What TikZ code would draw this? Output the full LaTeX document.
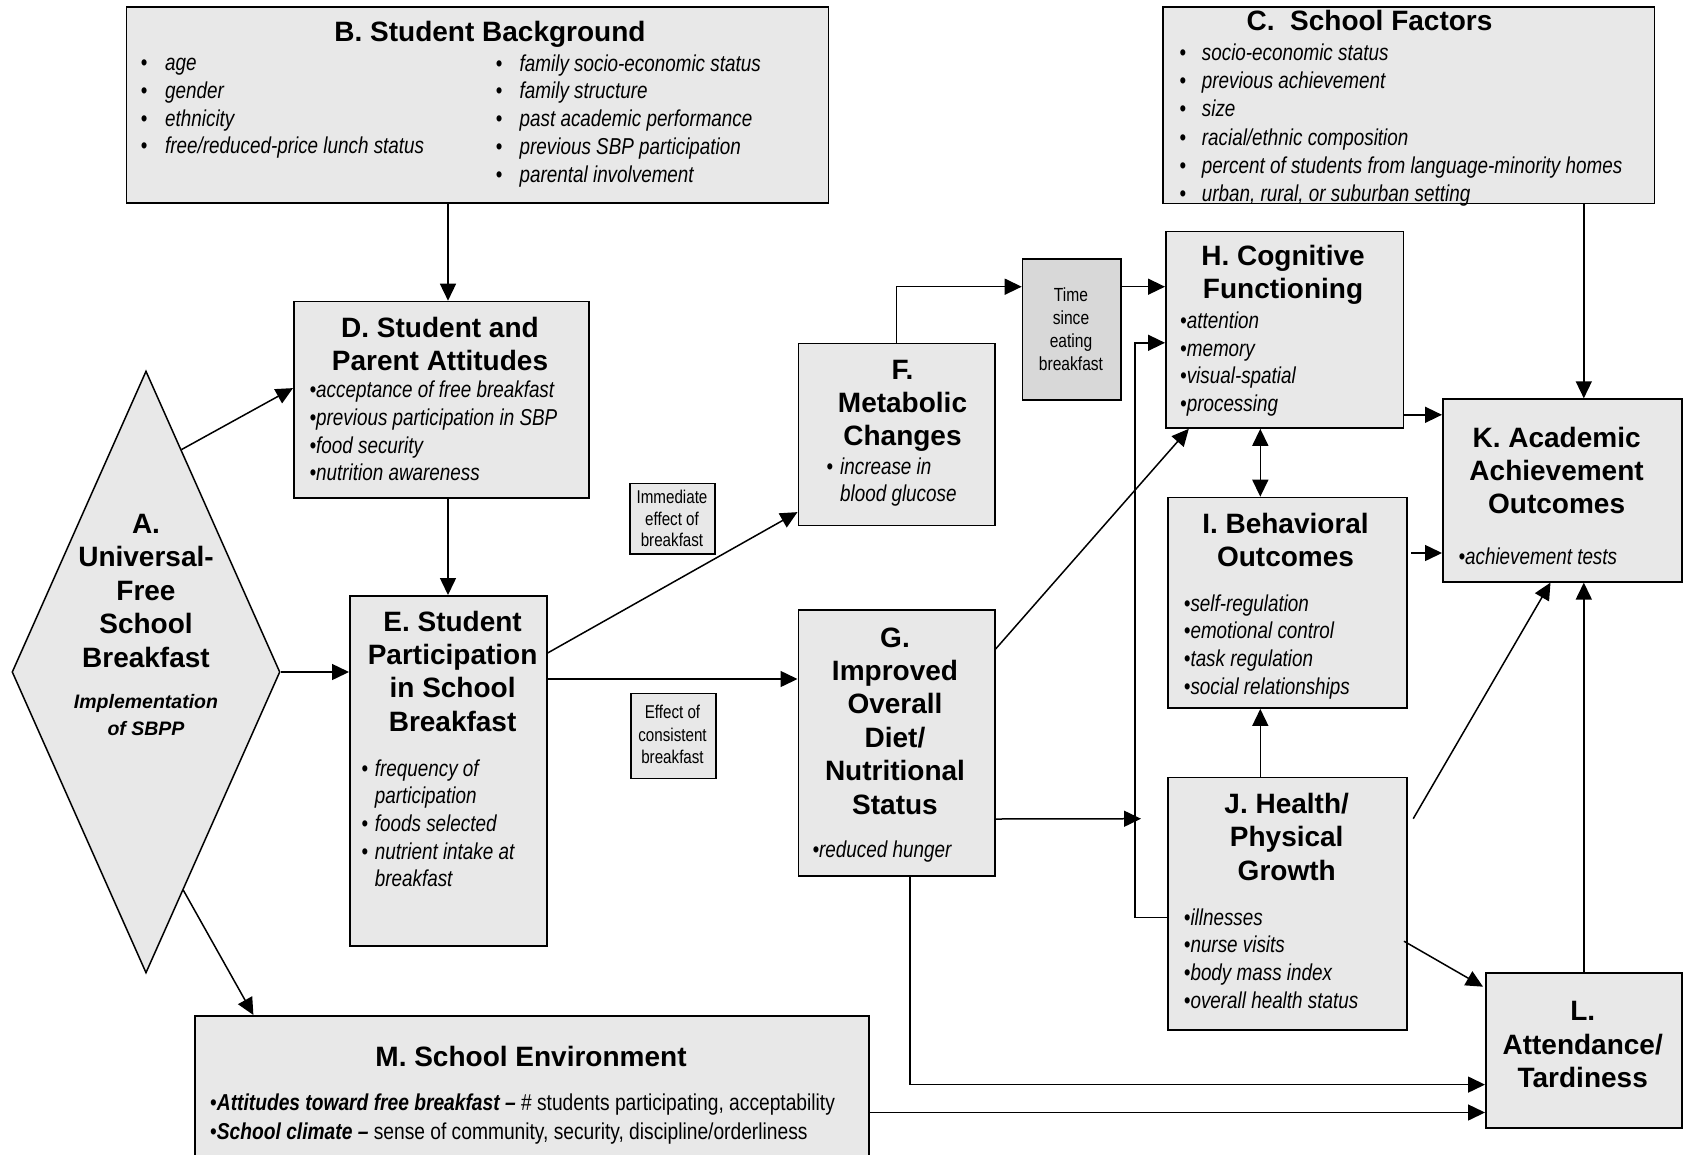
\documentclass[tikz,border=0pt]{standalone}
\usepackage{fontspec}
\setmainfont{Liberation Sans}
\newfontfamily\nar[FakeStretch=0.82]{Liberation Sans}
\newfontfamily\narm[FakeStretch=0.835]{Liberation Sans}
\usetikzlibrary{arrows.meta,shapes.geometric,calc}
\definecolor{boxfill}{RGB}{232,232,232}
\definecolor{timefill}{RGB}{216,216,216}
\newcommand\bul[1]{\makebox[#1pt][l]{\upshape •}}
\newcommand\indn[1]{\hspace*{#1pt}}
\tikzset{
 box/.style={draw=black, line width=1.6pt, fill=boxfill, anchor=north west, inner sep=0pt},
 ttl/.style={font=\bfseries\fontsize{28}{33.4}\selectfont, align=center, anchor=base, inner sep=0pt},
 itm/.style={font=\nar\itshape\fontsize{23}{27.7}\selectfont, align=left, anchor=base west, inner sep=0pt},
 lbl/.style={font=\nar\fontsize{18.5}{21.7}\selectfont, align=center, anchor=base, inner sep=0pt},
 arr/.style={line width=1.5pt, -{Triangle[length=17pt,width=16pt]}},
 dbl/.style={line width=1.5pt, {Triangle[length=17pt,width=16pt]}-{Triangle[length=17pt,width=16pt]}},
}
\begin{document}
\begin{tikzpicture}[x=1pt,y=-1pt]
\useasboundingbox (0,0) rectangle (1683,1154);
\clip (0,0) rectangle (1683,1154);
\fill[white] (0,0) rectangle (1683,1154);

% boxes
\node[box, minimum width=701.9pt, minimum height=195.8pt] (B) at (125.6,6.4) {};
\node[box, minimum width=491.5pt, minimum height=196.1pt] (C) at (1162,6.4) {};
\node[box, minimum width=295pt, minimum height=196.6pt] (D) at (293,300.7) {};
\node[box, minimum width=197pt, minimum height=350pt] (E) at (349,595) {};
\node[box, minimum width=196.5pt, minimum height=181.8pt] (F) at (797.5,342.7) {};
\node[box, minimum width=196.5pt, minimum height=266pt] (G) at (797.5,609) {};
\node[box, minimum width=674pt, minimum height=160pt] (M) at (194,1015) {};
\node[box, fill=timefill, minimum width=98.6pt, minimum height=140.7pt] (T) at (1021.7,258.3) {};
\node[box, minimum width=85pt, minimum height=70.6pt] (Im) at (629.3,482.7) {};
\node[box, minimum width=85pt, minimum height=85pt] (Ef) at (630,692.5) {};
\node[box, minimum width=237.5pt, minimum height=196.4pt] (H) at (1165,230.8) {};
\node[box, minimum width=239pt, minimum height=210.6pt] (I) at (1167,496.7) {};
\node[box, minimum width=239pt, minimum height=252.3pt] (J) at (1167,776.7) {};
\node[box, minimum width=239pt, minimum height=182.7pt] (K) at (1442,398.3) {};
\node[box, minimum width=196pt, minimum height=154.6pt] (L) at (1485,972.4) {};
\node[diamond, draw=black, line width=1.5pt, fill=boxfill, minimum width=268pt, minimum height=602pt, inner sep=0pt] (A) at (146,672) {};

% titles (anchor = baseline of the last line)
\node[ttl] (Bt) at (490,41.7) {B. Student Background};
\node[ttl] (Ct) at (1369.5,30.7) {C.~~School Factors};
\node[ttl] (Dt) at (440,370.4) {D. Student and\\Parent Attitudes};
\node[ttl] (Et) at (452.6,731.2) {E. Student\\Participation\\in School\\Breakfast};
\node[ttl] (Ft) at (902.5,445.8) {F.\\Metabolic\\Changes};
\node[ttl] (Gt) at (895,814) {G.\\Improved\\Overall\\Diet/\\Nutritional\\Status};
\node[ttl] (Ht) at (1283,298.4) {H. Cognitive\\Functioning};
\node[ttl] (It) at (1285.5,566.7) {I. Behavioral\\Outcomes};
\node[ttl] (Jt) at (1286.7,880.1) {J. Health/\\Physical\\Growth};
\node[ttl] (Kt) at (1556.6,513.8) {K. Academic\\Achievement\\Outcomes};
\node[ttl] (Lt) at (1582.7,1087.6) {L.\\Attendance/\\Tardiness};
\node[ttl] (Mt) at (531,1066) {M. School Environment};
\node[ttl] (At) at (146,667.1) {A.\\Universal-\\Free\\School\\Breakfast};
\node[font=\bfseries\itshape\fontsize{19.5}{26.7}\selectfont, align=center, anchor=base, inner sep=0pt] (As) at (146,735) {Implementation\\of SBPP};

% items
\node[itm] (Bl) at (140.7,153.8) {\bul{24.3}age\\\bul{24.3}gender\\\bul{24.3}ethnicity\\\bul{24.3}free/reduced-price lunch status};
\node[itm] (Br) at (495.7,182) {\bul{23.8}family socio-economic status\\\bul{23.8}family structure\\\bul{23.8}past academic performance\\\bul{23.8}previous SBP participation\\\bul{23.8}parental involvement};
\node[itm, font=\nar\itshape\fontsize{23}{28.1}\selectfont] (Ci) at (1179.5,201.2) {\bul{22.2}socio-economic status\\\bul{22.2}previous achievement\\\bul{22.2}size\\\bul{22.2}racial/ethnic composition\\\bul{22.2}percent of students from language-minority homes\\\bul{22.2}urban, rural, or suburban setting};
\node[itm] (Di) at (309.4,480.8) {•acceptance of free breakfast\\•previous participation in SBP\\•food security\\•nutrition awareness};
\node[itm] (Ei) at (361.5,886.8) {\bul{13.2}frequency of\\\indn{13.2}participation\\\bul{13.2}foods selected\\\bul{13.2}nutrient intake at\\\indn{13.2}breakfast};
\node[itm, font=\nar\itshape\fontsize{23}{27}\selectfont] (Fi) at (826.3,501) {\bul{13.7}increase in\\\indn{13.7}blood glucose};
\node[itm] (Gi) at (812.4,857) {•reduced hunger};
\node[itm] (Hi) at (1180,411.4) {•attention\\•memory\\•visual-spatial\\•processing};
\node[itm] (Ii) at (1183.7,694.1) {•self-regulation\\•emotional control\\•task regulation\\•social relationships};
\node[itm] (Ji) at (1183.7,1008.1) {•illnesses\\•nurse visits\\•body mass index\\•overall health status};
\node[itm] (Ki) at (1458.3,564.6) {•achievement tests};
\node[itm, font=\narm\fontsize{23}{29}\selectfont] (Mi) at (210,1139) {•\textbf{\textit{Attitudes toward free breakfast –}} \# students participating, acceptability\\•\textbf{\textit{School climate –}} sense of community, security, discipline/orderliness};

% small labels
\node[lbl] (Imt) at (672,546.7) {Immediate\\effect of\\breakfast};
\node[lbl, font=\nar\fontsize{18.5}{22.6}\selectfont] (Eft) at (672.5,763.7) {Effect of\\consistent\\breakfast};
\node[lbl, font=\nar\fontsize{19}{23}\selectfont] (Tt) at (1071,370) {Time\\since\\eating\\breakfast};

% connectors
\coordinate (xBD) at (448,0);
\coordinate (xHI) at (1260.3,0);
\coordinate (xCK) at (1583.8,0);
\coordinate (xGL) at (910,0);
\draw[arr] (B.south -| xBD) -- (D.north -| xBD);
\draw[arr] (D.south -| xBD) -- (E.north -| xBD);
\draw[arr] ($(A.north)!0.263!(A.east)$) -- ($(D.west)+(0,-11.7)$);
\draw[arr] (A.east) -- (A.east -| E.west);
\draw[arr] ($(A.east)!0.723!(A.south)$) -- ($(M.north west)+(59.4,0)$);
\draw[arr] ($(E.north east)+(0,58)$) -- ($(F.south west)+(0,-14)$);
\draw[arr] ($(E.north east)+(0,84)$) coordinate (eg) -- (eg -| G.west);
\draw[arr] (F.north) |- ($(T.north west)+(0,28.4)$);
\draw[arr] ($(T.north east)+(0,28.4)$) coordinate (th) -- (th -| H.west);
\draw[arr] ($(J.west)+(0,13.7)$) -- ++(-32,0) |- ($(H.north west)+(0,112)$);
\draw[arr] ($(G.north east)+(0,40)$) -- ($(H.south west)+(23.8,0)$);
\draw[arr] ($(G.north east)+(0,210)$) -- ($(J.north west)+(-26,42)$);
\draw[arr] (G.south -| xGL) |- ($(L.north west)+(0,112.2)$);
\draw[arr] ($(M.north east)+(0,97.5)$) coordinate (ml) -- (ml -| L.west);
\draw[dbl] (H.south -| xHI) -- (I.north -| xHI);
\draw[arr] (J.north -| xHI) -- (I.south -| xHI);
\draw[arr] ($(H.south east)+(0,-14)$) coordinate (hk) -- (hk -| K.west);
\draw[arr] ($(I.north east)+(3.4,56.3)$) coordinate (ik) -- (ik -| K.west);
\draw[arr] (C.south -| xCK) -- (K.north -| xCK);
\draw[arr] ($(J.north east)+(5.6,42)$) -- ($(K.south west)+(108.5,0)$);
\draw[arr] (L.north -| xCK) -- (K.south -| xCK);
\draw[arr] ($(J.south east)+(-3.6,-89.4)$) -- ($(L.north west)+(-2,14.3)$);
\end{tikzpicture}
\end{document}
